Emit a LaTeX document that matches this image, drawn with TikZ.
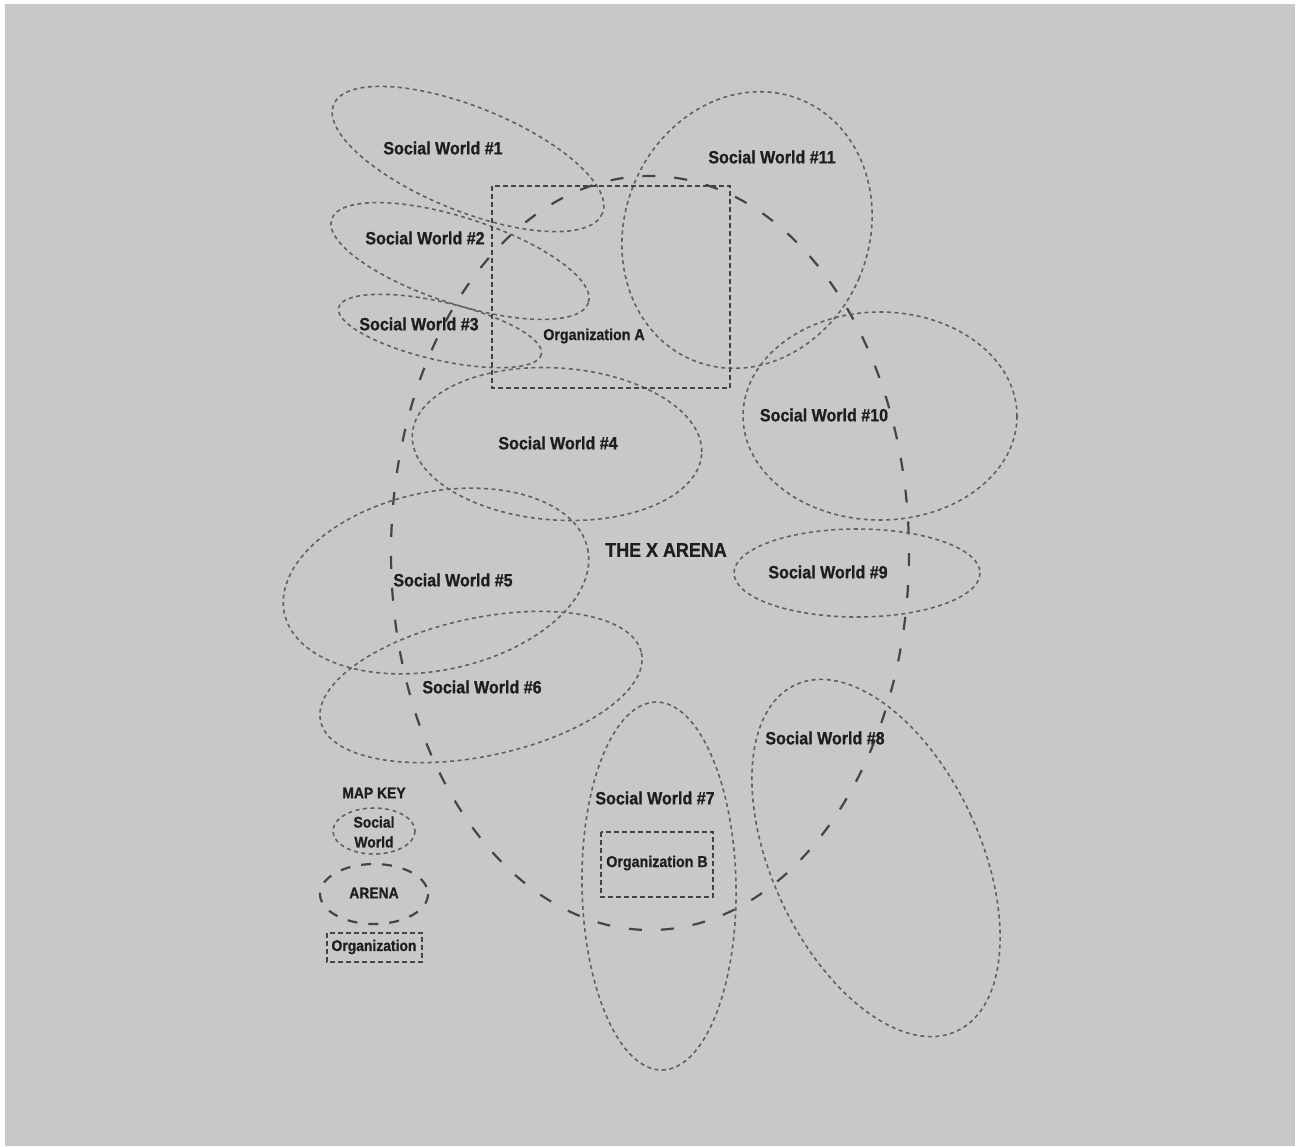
\documentclass[tikz,border=0pt]{standalone}
\usepackage{fontspec}
\setmainfont{Liberation Sans}[FakeStretch=0.9, BoldFeatures={FakeBold=0.8}]
\definecolor{paper}{HTML}{C8C8C8}
\definecolor{worldline}{HTML}{616161}
\definecolor{arenaline}{HTML}{454545}
\definecolor{orgline}{HTML}{444444}
\definecolor{ink}{HTML}{1E1E1E}
\begin{document}
\begin{tikzpicture}[x=1bp,y=-1bp,
  world/.style={draw=worldline, line width=1.6bp, dash pattern=on 4bp off 3.5bp},
  arena/.style={draw=arenaline, line width=2.2bp, dash pattern=on 13bp off 19bp},
  keyarena/.style={draw=arenaline, line width=2.2bp, dash pattern=on 10bp off 11bp},
  orgbox/.style={draw=orgline, line width=2bp, dash pattern=on 5bp off 3bp},
  lbl/.style={text=ink, font=\fontsize{17.9}{20}\selectfont\bfseries, inner sep=0pt},
  biglbl/.style={text=ink, font=\fontsize{20}{22}\selectfont\bfseries, inner sep=0pt},
  orglbl/.style={text=ink, font=\fontsize{15.9}{18}\selectfont\bfseries, inner sep=0pt},
  keylbl/.style={text=ink, font=\fontsize{15.5}{20}\selectfont\bfseries, inner sep=0pt, align=center}
]
% page
\fill[white] (0,0) rectangle (1301,1146);
\fill[paper] (5,4) rectangle (1295,1146);
\useasboundingbox (0,0) rectangle (1301,1146);

% the arena
\draw[arena] (650,553) ellipse [x radius=259, y radius=377];

% social worlds
\draw[world, rotate around={-22:(468,159)}] (468,159) ellipse [x radius=145, y radius=52];
\draw[world, rotate around={-18:(460,261)}] (460,261) ellipse [x radius=135, y radius=43];
\draw[world, rotate around={-13:(440,331)}] (440,331) ellipse [x radius=104, y radius=29];
\draw[world, rotate around={-4:(557,444)}] (557,444) ellipse [x radius=145, y radius=76];
\draw[world, rotate around={12:(436,581)}] (436,581) ellipse [x radius=155, y radius=89];
\draw[world, rotate around={12:(481,687)}] (481,687) ellipse [x radius=164, y radius=69];
\draw[world, rotate around={1:(659,886)}] (659,886) ellipse [x radius=77, y radius=184];
\draw[world, rotate around={25:(876,858)}] (876,858) ellipse [x radius=104, y radius=191];
\draw[world] (857,573) ellipse [x radius=123, y radius=44];
\draw[world] (880,416) ellipse [x radius=137, y radius=104];
\draw[world, rotate around={-23:(747,230)}] (747,230) ellipse [x radius=122, y radius=141];

% organizations
\draw[orgbox] (492,186) rectangle (730,388);
\draw[orgbox] (601,832) rectangle (713,897);

% labels
\node[lbl] (w1) at (443,148) {Social World \#1};
\node[lbl] (w2) at (425,238) {Social World \#2};
\node[lbl] (w3) at (419,324) {Social World \#3};
\node[lbl] (w4) at (558,443) {Social World \#4};
\node[lbl] (w5) at (453,580) {Social World \#5};
\node[lbl] (w6) at (482,687) {Social World \#6};
\node[lbl] (w7) at (655,798) {Social World \#7};
\node[lbl] (w8) at (825,738) {Social World \#8};
\node[lbl] (w9) at (828,572) {Social World \#9};
\node[lbl] (w10) at (824,415) {Social World \#10};
\node[lbl] (w11) at (772,157) {Social World \#11};
\node[biglbl] (arena) at (666,550) {THE X ARENA};
\node[orglbl] (orgA) at (594,336) {Organization A};
\node[orglbl] (orgB) at (657,863) {Organization B};

% map key
\node[keylbl] (key) at (374,793) {MAP KEY};
\draw[world] (374,831) ellipse [x radius=41, y radius=23];
\node[keylbl] (keyworld) at (374,832) {Social\\World};
\draw[keyarena] (374,894) ellipse [x radius=54, y radius=30];
\node[keylbl] (keyarena) at (374,893) {ARENA};
\draw[orgbox] (327,933) rectangle (422,962);
\node[keylbl] (keyorg) at (374,947) {Organization};
\end{tikzpicture}
\end{document}
